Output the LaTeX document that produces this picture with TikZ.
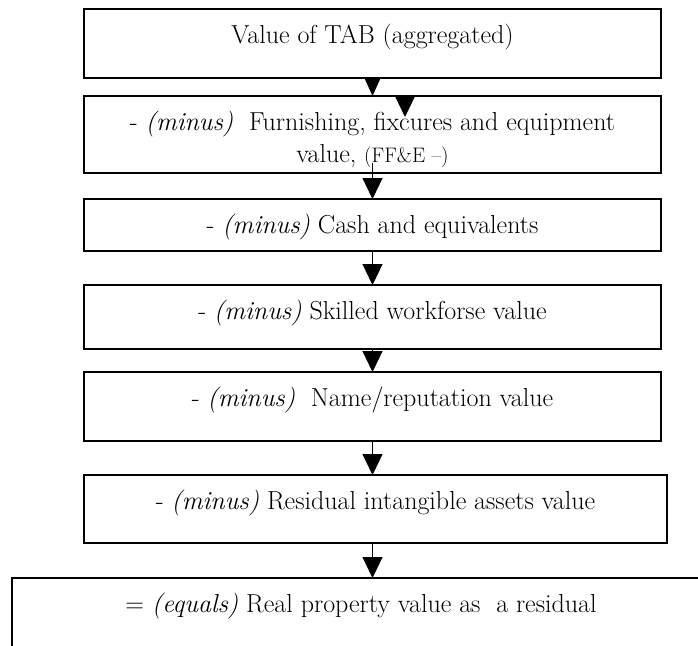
\documentclass[tikz,border=0pt]{standalone}
\usepackage{tikz}
\usetikzlibrary{arrows.meta,positioning}
\tikzset{stepbox/.style={
    % The shape:
    rectangle,
    % The size:
    minimum width=577pt,
    inner sep=0pt,
    outer sep=0pt,
    % The border:
    line width=1.5pt,
    draw=black,
    },
    steptext/.style={
    anchor=base,
    yshift=-34pt,
    align=center,
    font=\fontsize{26}{32}\selectfont,
    },
    flow/.style={
    line width=1.2pt,
    -{Triangle[width=20pt,length=21pt]},
    },
}

\begin{document}
\begin{tikzpicture}[x=1pt,y=1pt]
    \useasboundingbox (0,0) rectangle (698,-645);
    \clip (0,0) rectangle (698,-645);

    \node (tab)   [stepbox,minimum height=69pt,
        label={[steptext]north:Value of TAB (aggregated)}] at (372.5,-43.5) {};
    \node (ffe)   [stepbox,minimum height=77pt,below=18pt of tab,
        label={[steptext,yshift=-32pt]north:- \textit{(minus)}\ \ Furnishing, fixcures and equipment\\value, {\fontsize{21}{32}\selectfont(FF\&E --)}}] {};
    \node (cash)  [stepbox,minimum height=52pt,below=26pt of ffe,
        label={[steptext]north:- \textit{(minus)} Cash and equivalents}] {};
    \node (skill) [stepbox,minimum height=64pt,below=34pt of cash,
        label={[steptext]north:- \textit{(minus)} Skilled workforse value}] {};
    \node (name)  [stepbox,minimum height=69pt,below=23pt of skill,
        label={[steptext]north:- \textit{(minus)}\ \ Name/reputation value}] {};
    \node (resid) [stepbox,minimum height=68pt,minimum width=583pt,below=34pt of name,xshift=3pt,
        label={[steptext]north:- \textit{(minus)} Residual intangible assets value}] {};
    \node (real)  [stepbox,minimum height=100pt,minimum width=698pt,below=35pt of resid,xshift=-14.5pt,
        label={[steptext]north:= \textit{(equals)} Real property value as\ \ a residual}] {};

    \coordinate[right=32.5pt of ffe.north] (stray);
    \coordinate[below=21pt of stray] (stray tip);
    \coordinate[above=10pt of ffe.south] (ffe out);

    \draw[flow,-{Triangle[width=15pt,length=17pt]}] (tab) -- (ffe);
    \draw[flow] (stray) -- (stray tip);
    \draw[flow] (ffe out) -- (cash.north);
    \draw[flow] (cash) -- (skill);
    \draw[flow] (skill) -- (name);
    \draw[flow] (name) -- (name.south |- resid.north);
    \draw[flow] (name.south |- resid.south) -- (name.south |- real.north);
\end{tikzpicture}
\end{document}
